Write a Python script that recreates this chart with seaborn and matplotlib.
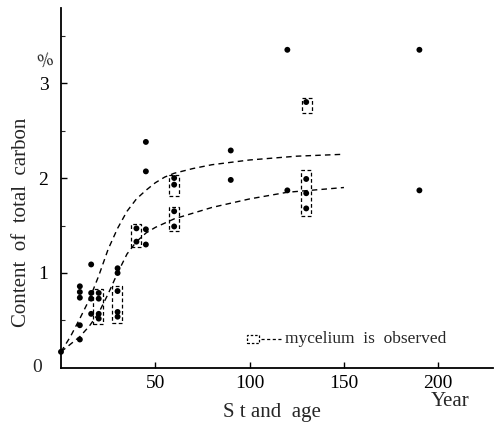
import numpy as np
import pandas as pd
import matplotlib
matplotlib.use("Agg")
import matplotlib.pyplot as plt
from matplotlib.patches import Rectangle
import seaborn as sns

# ---- data ----
point_age = [0, 10, 10, 10, 10, 10, 16, 16, 16, 16, 20, 20, 20, 20,
             30, 30, 30, 30, 30, 40, 40, 45, 45, 45, 45, 60, 60, 60, 60,
             90, 90, 120, 120, 130, 130, 130, 130, 190, 190]
point_carbon = [0.17, 0.86, 0.80, 0.74, 0.45, 0.30, 1.09, 0.79, 0.73, 0.57,
                0.79, 0.73, 0.57, 0.52, 1.05, 1.00, 0.81, 0.59, 0.54,
                1.47, 1.33, 1.46, 1.30, 2.38, 2.07, 2.00, 1.93, 1.65, 1.49,
                2.29, 1.98, 3.35, 1.87, 2.80, 1.99, 1.84, 1.68, 3.35, 1.87]

upper_age = [0, 5, 10, 15, 20, 25, 30, 35, 40, 45, 50, 55, 60, 70, 80, 100,
             125, 150]
upper_carbon = [0.17, 0.33, 0.52, 0.72, 0.97, 1.25, 1.47, 1.65, 1.78, 1.87,
                1.95, 2.01, 2.05, 2.10, 2.14, 2.19, 2.23, 2.25]
lower_age = [0, 5, 10, 15, 20, 25, 30, 35, 40, 45, 50, 60, 80, 100, 120, 150]
lower_carbon = [0.17, 0.25, 0.33, 0.44, 0.58, 0.78, 1.00, 1.20, 1.33, 1.42,
                1.48, 1.57, 1.69, 1.78, 1.85, 1.90]

box_age = [19.5, 29.5, 39.7, 59.7, 59.7, 129.7, 130.3]
box_lo = [0.46, 0.47, 1.27, 1.81, 1.44, 1.60, 2.68]
box_hi = [0.83, 0.86, 1.52, 2.03, 1.69, 2.08, 2.84]

x_ticks = [50, 100, 150, 200]
y_ticks = [1, 2, 3]

# ---- style ----
sns.set_style("ticks")
plt.rcParams['font.family'] = ['Liberation Serif', 'DejaVu Serif']

fig = plt.figure(figsize=(4.95, 4.26), dpi=100)
ax = fig.add_axes([0.1232, 0.1362, 0.8727, 0.845])

pts = pd.DataFrame({"age": point_age, "carbon": point_carbon})
up = pd.DataFrame({"age": upper_age, "carbon": upper_carbon})
lo = pd.DataFrame({"age": lower_age, "carbon": lower_carbon})

sns.lineplot(data=up, x="age", y="carbon", ax=ax, color="black", lw=1.0,
             dashes=False, linestyle=(0, (4, 3)))
sns.lineplot(data=lo, x="age", y="carbon", ax=ax, color="black", lw=1.0,
             dashes=False, linestyle=(0, (4, 3)))
sns.scatterplot(data=pts, x="age", y="carbon", ax=ax, color="black",
                s=18, edgecolor="none", zorder=5, clip_on=False)

half_w = 2.7
for a, l, h in zip(box_age, box_lo, box_hi):
    ax.add_patch(Rectangle((a - half_w, l), 2 * half_w, h - l, fill=False,
                           ec="black", lw=0.9, ls=(0, (3, 2))))

ax.set_xlim(0, 229)
ax.set_ylim(0, 3.79)
ax.set_xticks(x_ticks)
ax.set_xticklabels([str(v) for v in x_ticks])
ax.set_yticks(y_ticks)
ax.set_yticklabels([str(v) for v in y_ticks])
ax.set_yticks([0.5, 1.5, 2.5, 3.5], minor=True)
ax.tick_params(axis="both", direction="in", length=4, width=1, labelsize=14,
               color="black", labelcolor="black")
ax.tick_params(axis="y", which="minor", direction="in", length=3, width=0.8)
ax.tick_params(axis="y", pad=9)
ax.tick_params(axis="x", pad=5)
ax.set_xlabel("")
ax.set_ylabel("")
sns.despine(ax=ax)
for s in ["left", "bottom"]:
    ax.spines[s].set_linewidth(1.3)
    ax.spines[s].set_color("black")

ax.text(-0.045, 0, "0", transform=ax.get_yaxis_transform(), ha="right",
        va="center", fontsize=14)

# legend
ax.add_patch(Rectangle((0.431, 0.070), 0.028, 0.022, transform=ax.transAxes,
                       fill=False, ec="black", lw=0.9, ls=(0, (2, 1.5))))
ax.plot([0.462, 0.510], [0.081, 0.081], transform=ax.transAxes, color="black",
        lw=0.9, ls=(0, (2.5, 2)))
ax.text(0.518, 0.081, "mycelium  is  observed", transform=ax.transAxes,
        ha="left", va="center", fontsize=12.5)

fig.text(272 / 495, 1 - 412 / 426, "S t and  age", ha="center", va="center",
         fontsize=15)
fig.text(450 / 495, 1 - 402 / 426, "Year", ha="center", va="center",
         fontsize=15)
fig.text(22 / 495, 1 - 222 / 426, "Content  of  total  carbon", rotation=90,
         ha="center", va="center", fontsize=15)
fig.text(45 / 495, 1 - 62 / 426, "%", ha="center", va="center", fontsize=13,
         rotation=15)

fig.savefig("out.png", dpi=100)
